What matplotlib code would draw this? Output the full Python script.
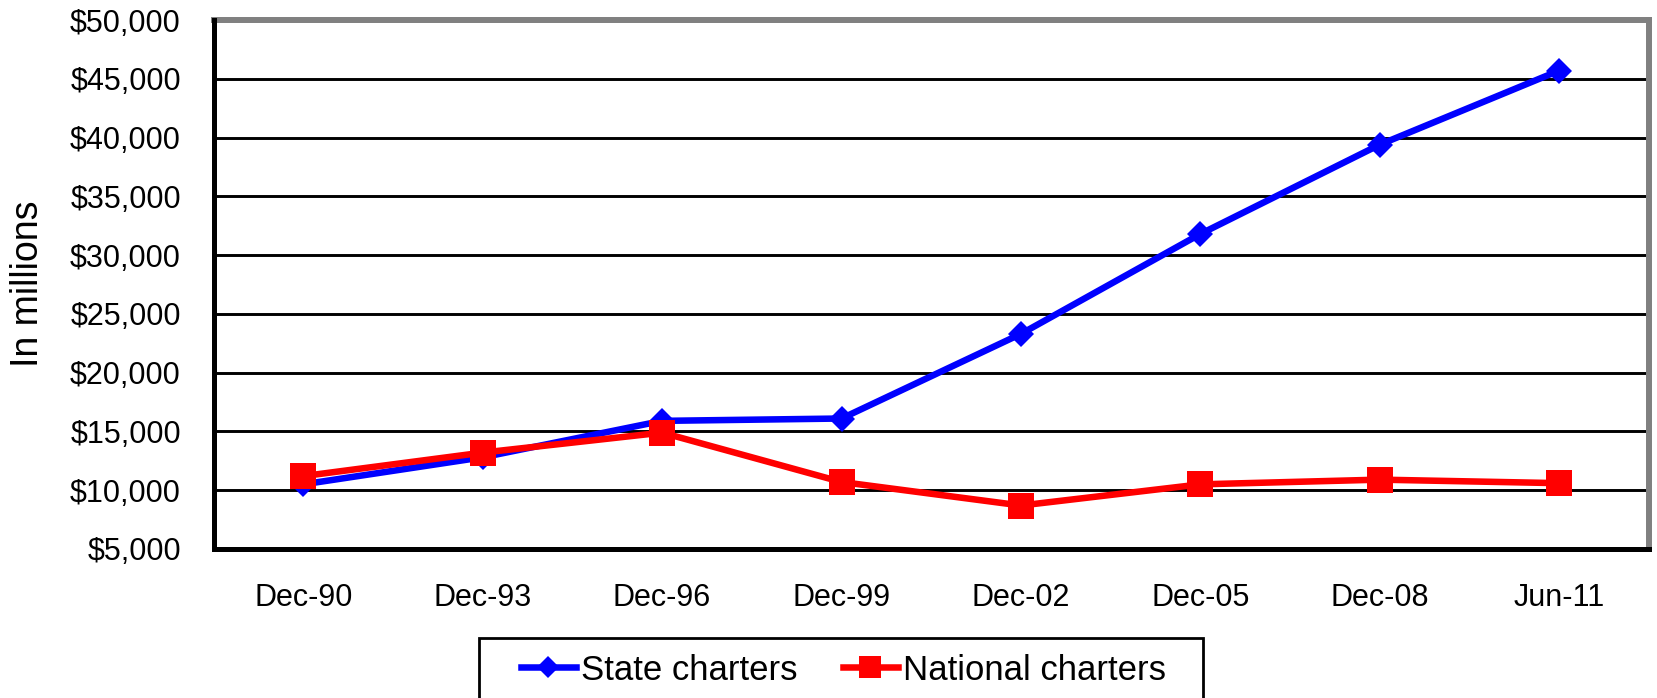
import matplotlib
matplotlib.use("Agg")
import matplotlib.pyplot as plt
from matplotlib.patches import Rectangle
from matplotlib.ticker import FuncFormatter

plt.rcParams['font.family'] = ['Liberation Sans', 'DejaVu Sans']

categories = ["Dec-90", "Dec-93", "Dec-96", "Dec-99", "Dec-02", "Dec-05", "Dec-08", "Jun-11"]
state_charters = [10500, 12800, 15900, 16100, 23300, 31800, 39400, 45700]
national_charters = [11200, 13200, 14900, 10700, 8700, 10500, 10900, 10600]
y_ticks = [5000, 10000, 15000, 20000, 25000, 30000, 35000, 40000, 45000, 50000]

W, H = 1657, 698
fig = plt.figure(figsize=(W / 100, H / 100), dpi=100)
ax = fig.add_axes([213.5 / W, 1 - 549 / H, (1649 - 213.5) / W, (549 - 20) / H])

x = list(range(len(categories)))
ax.plot(x, state_charters, color="#0000FF", lw=4.7, marker="D", ms=13.5,
        mew=0, label="State charters", zorder=3, solid_joinstyle="miter")
ax.plot(x, national_charters, color="#FF0000", lw=4.7, marker="s", ms=19,
        mew=0, label="National charters", zorder=4, solid_joinstyle="miter")

ax.set_xlim(-0.5, len(categories) - 0.5)
ax.set_ylim(5000, 50000)
ax.set_yticks(y_ticks)
ax.yaxis.set_major_formatter(FuncFormatter(lambda v, p: "${:,.0f}".format(v)))
ax.set_xticks(x)
ax.set_xticklabels(categories)

for v in y_ticks[1:-1]:
    ax.axhline(v, color="black", lw=2.1, zorder=1)

ax.tick_params(axis="y", length=0, pad=23.5, labelsize=22, colors="black")
ax.tick_params(axis="x", length=0, pad=24.5, labelsize=22, colors="black")

for s in ["top", "right"]:
    ax.spines[s].set_color("#808080")
    ax.spines[s].set_linewidth(4.3)
for s in ["left", "bottom"]:
    ax.spines[s].set_color("black")
    ax.spines[s].set_linewidth(3.6)
    ax.spines[s].set_zorder(5)

fig.text(27.5 / W, 1 - 284 / H, "In millions", rotation=90, ha="center", va="center",
         fontsize=27, color="black")

# legend frame (clipped by figure bottom like the reference)
fig.patches.append(Rectangle((479 / W, -0.05), (1203 - 479) / W, (1 - 638 / H) + 0.05,
                             transform=fig.transFigure, fill=False, edgecolor="black",
                             lw=2.0))
leg = fig.legend(loc="center left", bbox_to_anchor=(521 / W, 1 - 670 / H), ncol=2,
                 frameon=False, fontsize=25, borderpad=0, borderaxespad=0,
                 handlelength=1.58, handletextpad=0.14, columnspacing=1.32,
                 markerscale=0.82)

fig.savefig("out.png", dpi=100)
